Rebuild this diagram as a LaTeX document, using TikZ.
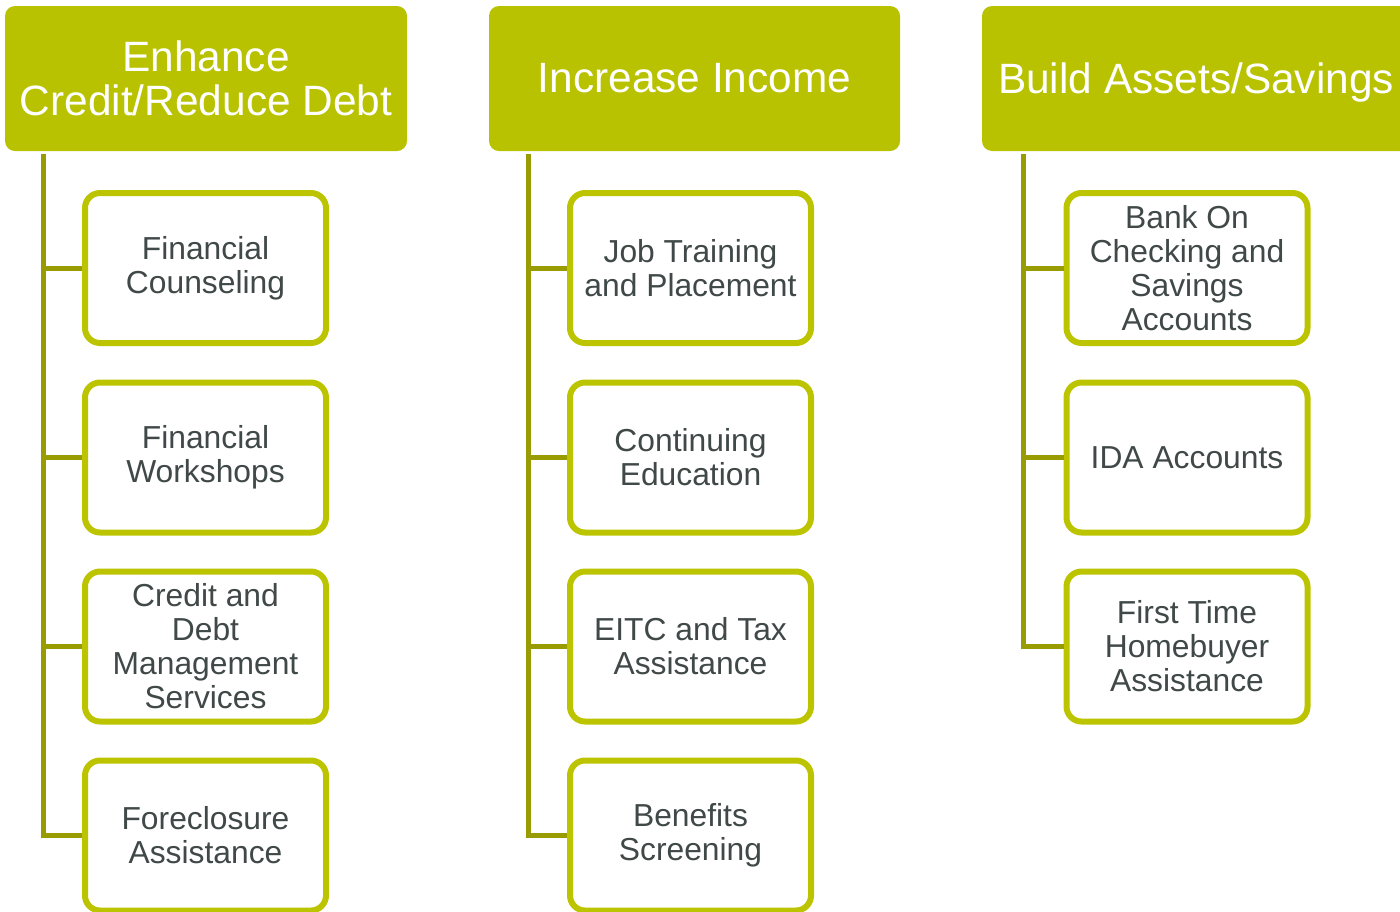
\documentclass[tikz,border=0pt]{standalone}
\usepackage{fontspec}
\setmainfont{Liberation Sans}
\definecolor{headgreen}{HTML}{B8C200}
\definecolor{boxgreen}{HTML}{BCC400}
\definecolor{linkgreen}{HTML}{989C00}
\definecolor{textgray}{HTML}{404848}
\tikzset{
  header/.style={fill=headgreen, rounded corners=5pt, text=white, align=center,
    minimum height=72.5pt, inner sep=0pt, font=\fontsize{21.2}{22}\selectfont},
  item/.style={draw=boxgreen, line width=3pt, fill=white, rounded corners=7.5pt,
    minimum width=120.5pt, minimum height=75pt, inner sep=0pt, align=center,
    text=textgray, font=\fontsize{15.9}{17}\selectfont},
  link/.style={draw=linkgreen, line width=2.5pt},
}
\begin{document}
\begin{tikzpicture}[x=0.5pt,y=-0.5pt]
      \useasboundingbox (0,0) rectangle (1400,911);
      % column headers
      \node[header, minimum width=201pt]   at (206,78.5)  (credit) {Enhance\\Credit/Reduce Debt};
      \node[header, minimum width=205.5pt] at (694.5,78.5) (income) {Increase Income};
      \node[header, minimum width=214pt, text depth=0pt] at (1196,78.5) (assets) {Build Assets/Savings};
      % trunk tops
      \coordinate (creditTop) at (43,154);
      \coordinate (incomeTop) at (528,154);
      \coordinate (assetsTop) at (1023,154);
      % first column
      \node[item] at (205.5,268)   (counsel)  {Financial\\Counseling};
      \node[item] at (205.5,457.5) (workshop) {Financial\\Workshops};
      \node[item] at (205.5,646.5) (debtmgmt) {Credit and\\Debt\\Management\\Services};
      \node[item] at (205.5,835.5) (foreclose) {Foreclosure\\Assistance};
      % second column
      \node[item] at (690.5,268)   (jobs)     {Job Training\\and Placement};
      \node[item] at (690.5,457.5) (educ)     {Continuing\\Education};
      \node[item] at (690.5,646.5) (eitc)     {EITC and Tax\\Assistance};
      \node[item] at (690.5,835.5) (benefits) {Benefits\\Screening};
      % third column
      \node[item] at (1187,268)   (bankon) {Bank On\\Checking and\\Savings\\Accounts};
      \node[item] at (1187,457.5) (ida)    {IDA Accounts};
      \node[item] at (1187,646.5) (homebuy) {First Time\\Homebuyer\\Assistance};
      % connectors
      \draw[link] (creditTop) |- (counsel.west);
      \draw[link] (creditTop) |- (workshop.west);
      \draw[link] (creditTop) |- (debtmgmt.west);
      \draw[link] (creditTop) |- (foreclose.west);
      \draw[link] (incomeTop) |- (jobs.west);
      \draw[link] (incomeTop) |- (educ.west);
      \draw[link] (incomeTop) |- (eitc.west);
      \draw[link] (incomeTop) |- (benefits.west);
      \draw[link] (assetsTop) |- (bankon.west);
      \draw[link] (assetsTop) |- (ida.west);
      \draw[link] (assetsTop) |- (homebuy.west);
    \end{tikzpicture}
\end{document}
